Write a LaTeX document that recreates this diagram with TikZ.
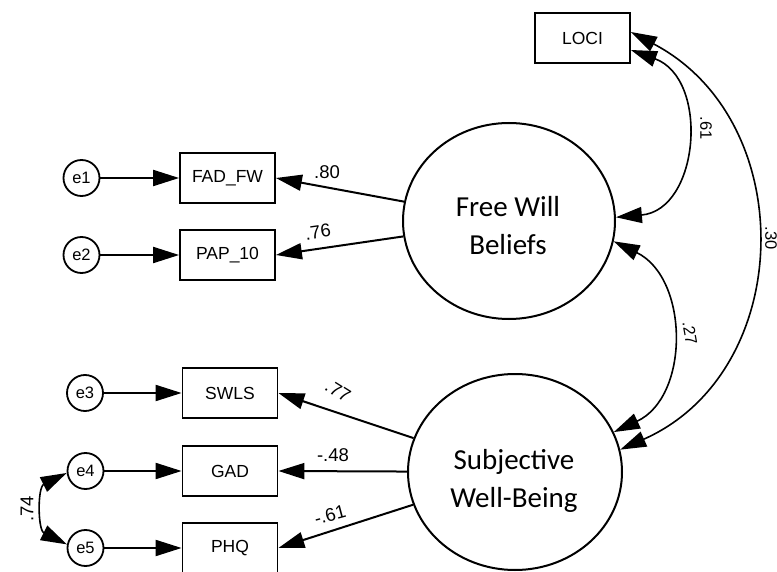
\documentclass[tikz,border=0pt]{standalone}
\usepackage{fontspec}
\setmainfont{Liberation Sans}
\newfontfamily\calib{Carlito}
\usetikzlibrary{arrows.meta,shapes.geometric}
\begin{document}
\begin{tikzpicture}[x=1pt,y=1pt,
  >={Triangle[length=26pt,width=16pt]},
  obs/.style={draw, line width=1.8pt, minimum width=95pt, minimum height=50pt, inner sep=0pt, font=\fontsize{17.5}{20}\selectfont},
  err/.style={draw, circle, line width=1.8pt, minimum size=36pt, inner sep=0pt, font=\fontsize{16.5}{18}\selectfont},
  lat/.style={draw, ellipse, line width=2pt, inner sep=0pt},
  lattext/.style={align=center, inner sep=0pt, font=\calib\fontsize{29}{38}\selectfont},
  arr/.style={line width=2pt, ->},
  cov/.style={line width=1.6pt, <->},
  coef/.style={font=\fontsize{18.5}{20}\selectfont, inner sep=0pt},
  ccoef/.style={font=\fontsize{16.5}{18}\selectfont, inner sep=0pt}]
\useasboundingbox[fill=white] (0,0) rectangle (777,-572);

% error terms
\node[err] (e1) at (81.5,-178) {e1};
\node[err] (e2) at (81.5,-255) {e2};
\node[err] (e3) at (85,-393) {e3};
\node[err] (e4) at (85.5,-471) {e4};
\node[err] (e5) at (85.5,-548) {e5};

% observed variables
\node[obs] (fad) at (227.5,-178) {FAD\_FW};
\node[obs] (pap) at (227.5,-255) {PAP\_10};
\node[obs] (swls) at (230,-393) {SWLS};
\node[obs] (gad) at (230,-471) {GAD};
\node[obs] (phq) at (230,-548) {PHQ};
\node[obs] (loci) at (582.5,-38) {LOCI};

% latent variables
\node[lat, minimum width=212pt, minimum height=196pt] (fwb) at (509,-221) {};
\node[lat, minimum width=214pt, minimum height=196pt] (swb) at (515,-472) {};
\node[lattext] (fwbt) at (508,-226) {Free Will\\Beliefs};
\node[lattext] (swbt) at (514,-481) {Subjective\\Well-Being};

% error paths
\draw[arr] (e1) -- (fad);
\draw[arr] (e2) -- (pap);
\draw[arr] (e3) -- (swls);
\draw[arr] (e4) -- (gad);
\draw[arr] (e5) -- (phq);

% loadings
\draw[arr] (fwb) -- (fad.east);
\draw[arr] (fwb) -- (pap.east);
\draw[arr] (swb) -- (swls.east);
\draw[arr] (swb) -- (gad.east);
\draw[arr] (swb) -- (phq.east);

% covariances
\draw[cov] ([yshift=6pt]loci.east) .. controls +(-27.7:192) and +(23.9:192) .. (swb.12);
\draw[cov] ([yshift=-12pt]loci.east) .. controls +(-20:84) and +(5:84) .. (fwb.2);
\draw[cov] (fwb.-11) .. controls +(-26:84) and +(25:84) .. (swb.22);
\draw[cov] (e4.186) .. controls +(206.4:32.7) and +(153.6:32.7) .. (e5.169);

% coefficients
\node[coef] (l80) at (327,-172) {.80};
\node[coef, rotate=8] (l76) at (318,-232) {.76};
\node[coef, rotate=-32] (l77) at (338,-391) {.77};
\node[coef] (l48) at (333,-455) {-.48};
\node[coef, rotate=15] (l61b) at (330,-515) {-.61};
\node[coef, rotate=90] (l74) at (27,-509) {.74};
\node[ccoef, rotate=-90] (l61) at (706,-128) {.61};
\node[ccoef, rotate=-90] (l30) at (771,-238) {.30};
\node[ccoef, rotate=-80] (l27) at (690,-333) {.27};
\end{tikzpicture}
\end{document}
